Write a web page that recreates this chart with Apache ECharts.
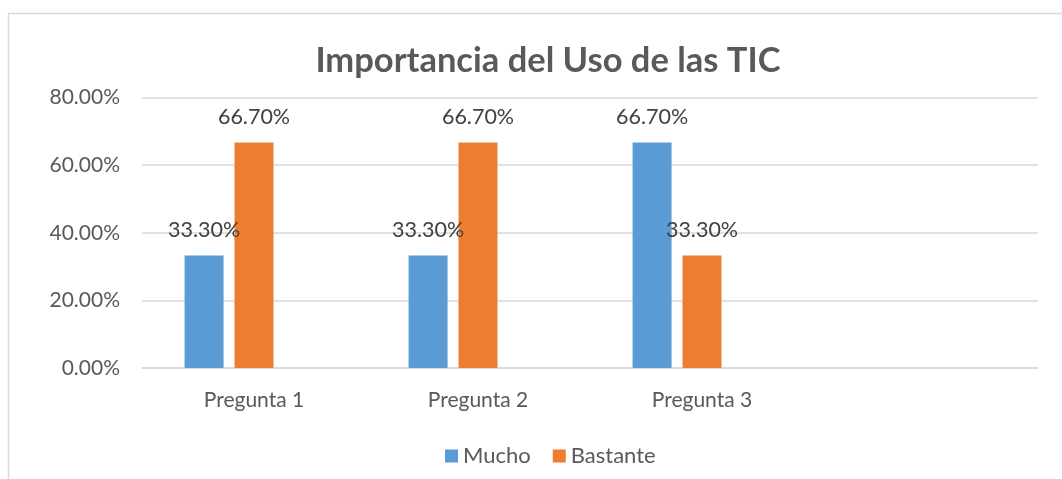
<!DOCTYPE html>
<html>
<head>
<meta charset="utf-8">
<script src="https://cdn.jsdelivr.net/npm/echarts@6/dist/echarts.min.js"></script>
<style>
  html, body { margin: 0; padding: 0; background: #fff; }
  #chart { width: 1062px; height: 479px; }
</style>
</head>
<body>
<div id="chart"></div>
<script>
// categories (4th slot left empty as in the source sheet)
const categories = ['Pregunta 1', 'Pregunta 2', 'Pregunta 3', ''];
const mucho = [33.3, 33.3, 66.7, null];
const bastante = [66.7, 66.7, 33.3, null];
// third column of the sheet is empty but still reserves its slot
const vacio = [null, null, null, null];
const yTicks = { min: 0, max: 80, interval: 20 };

const font = 'Lato, "Open Sans", sans-serif';
const chart = echarts.init(document.getElementById('chart'));

const pct = v => v.toFixed(2) + '%';

const barLabel = {
  show: true, position: 'top', distance: 14,
  fontSize: 21.5, color: '#404040',
  formatter: p => pct(p.value)
};

chart.setOption({
  animation: false,
  textStyle: { fontFamily: font },
  title: {
    text: 'Importancia del Uso de las TIC',
    left: 543,
    textAlign: 'center',
    top: 38,
    textStyle: { fontSize: 34.5, fontWeight: 'bold', color: '#595959', fontFamily: font }
  },
  graphic: [{
    type: 'rect',
    shape: { x: 8.5, y: 13.5, width: 1200, height: 600 },
    style: { fill: 'none', stroke: '#d9d9d9', lineWidth: 1.5 },
    silent: true,
    z: -10
  }],
  legend: {
    data: ['Mucho', 'Bastante'],
    top: 440,
    left: 440,
    itemWidth: 13,
    itemHeight: 13,
    itemGap: 22,
    icon: 'rect',
    textStyle: { fontSize: 22, color: '#595959', fontFamily: font }
  },
  grid: { left: 142, right: 24, top: 97.5, bottom: 111, containLabel: false },
  xAxis: {
    type: 'category',
    data: categories,
    axisLine: { lineStyle: { color: '#d9d9d9', width: 1.5 } },
    axisTick: { show: false },
    axisLabel: { fontSize: 21, color: '#595959', margin: 22 }
  },
  yAxis: {
    type: 'value',
    min: yTicks.min,
    max: yTicks.max,
    interval: yTicks.interval,
    axisLine: { show: false },
    axisTick: { show: false },
    splitLine: { lineStyle: { color: '#d9d9d9', width: 1.5 } },
    axisLabel: { fontSize: 21, color: '#595959', margin: 22, formatter: v => pct(v) }
  },
  series: [
    {
      name: 'Mucho',
      type: 'bar',
      data: mucho,
      barWidth: 39,
      barGap: '28%',
      itemStyle: { color: '#5b9bd5' },
      label: barLabel
    },
    {
      name: 'Bastante',
      type: 'bar',
      data: bastante,
      barWidth: 39,
      itemStyle: { color: '#ed7d31' },
      label: barLabel
    },
    {
      name: '',
      type: 'bar',
      data: vacio,
      barWidth: 39,
      itemStyle: { color: '#a5a5a5' }
    }
  ]
});
</script>
</body>
</html>
